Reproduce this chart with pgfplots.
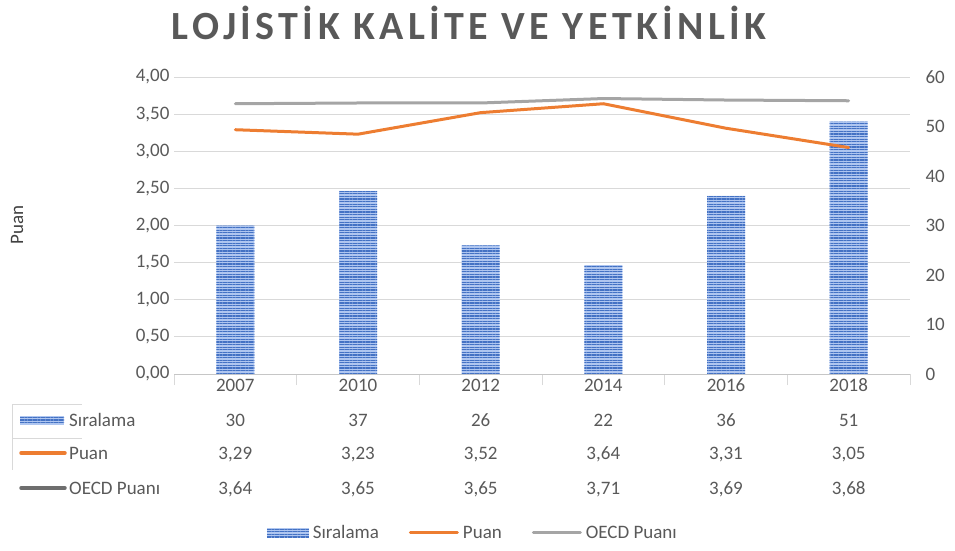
\documentclass[border=0pt]{standalone}
\usepackage{fontspec}
\setmainfont{Carlito}
\newfontfamily\titlefont[LetterSpace=11]{Carlito}
\usepackage{pgfplots}
\usepackage{pgfplotstable}
\pgfplotsset{compat=1.18}
\usetikzlibrary{patterns.meta}
\definecolor{barblue}{RGB}{68,114,196}
\definecolor{barlight}{RGB}{175,198,240}
\definecolor{puan}{RGB}{237,125,49}
\definecolor{oecd}{RGB}{165,165,165}
\definecolor{oecdkey}{RGB}{110,110,110}
\definecolor{txt}{RGB}{89,89,89}
\definecolor{gridc}{RGB}{217,217,217}

\pgfplotstableread{
x rank puan oecd
0 30 3.29 3.64
1 37 3.23 3.65
2 26 3.52 3.65
3 22 3.64 3.71
4 36 3.31 3.69
5 51 3.05 3.68
}\data

\newcommand\fs{\fontsize{19}{22}\selectfont}
\pgfplotsset{
  lineleg/.style={legend image code/.code={\draw[##1] (0pt,0pt) -- (47pt,0pt);}},
  barleg/.style={legend image code/.code={
    \fill[barlight, draw=none] (0pt,-4.5pt) rectangle (42pt,4.5pt);
    \path[draw=none, pattern={Lines[angle=0,distance=2.6pt,line width=1.3pt]}, pattern color=barblue] (0pt,-4.5pt) rectangle (42pt,4.5pt);}}
}

\begin{document}
\begin{tikzpicture}[x=1pt,y=1pt]
\path[use as bounding box] (0,0) rectangle (955,550);
\pgfplotsset{base/.style={at={(174pt,176pt)}, anchor=south west, scale only axis,
  width=736pt, height=297pt, xmin=-0.5, xmax=5.5,
  /pgf/number format/assume math mode=true,
  tick label style={font=\fs, text=txt}}}

% grid and left axis
\begin{axis}[base, ymin=0, ymax=4, ytick={0,0.5,...,4},
  ymajorgrids, grid style={gridc, line width=0.8pt},
  axis x line*=bottom, axis y line*=left,
  y axis line style={draw=none}, x axis line style={draw=gray!45, line width=0.8pt, -},
  major y tick style={draw=none},
  xtick={-0.5,0.5,...,5.5}, xticklabels={},
  xtick align=outside,
  major x tick style={draw=gridc, line width=0.8pt}, major tick length=11pt,
  yticklabel style={xshift=-1pt, /pgf/number format/.cd, use comma, fixed, fixed zerofill, precision=2}]
\end{axis}

% bars on right axis
\begin{axis}[base, ymin=0, ymax=60, ytick={0,10,...,60},
  axis y line*=right, axis x line=none,
  y axis line style={draw=none}, major y tick style={draw=none},
  yticklabel style={xshift=12pt}]
\addplot[ybar, bar width=38pt, draw=none, fill=barlight,
  postaction={pattern={Lines[angle=0,distance=2.6pt,line width=1.3pt]}, pattern color=barblue}]
  table[x=x,y=rank]{\data};
\end{axis}

% lines on left axis
\begin{axis}[base, ymin=0, ymax=4, hide axis,
  legend style={at={(0.406,-0.535)}, anchor=center, draw=none, fill=none,
    legend columns=3, font=\fs, text=txt,
    /tikz/every even column/.append style={column sep=28pt},
    /tikz/every odd column/.append style={column sep=2pt}}]
\addlegendimage{barleg}
\addlegendentry{Sıralama}
\addplot[puan, line width=3pt, line join=round, line cap=round, lineleg] table[x=x,y=puan]{\data};
\addlegendentry{Puan}
\addplot[oecd, line width=3pt, line join=round, line cap=round, lineleg] table[x=x,y=oecd]{\data};
\addlegendentry{OECD Puanı}
\end{axis}

% title
\node[text=txt] at (469,527) {\titlefont\bfseries\fontsize{40}{44}\selectfont LOJİSTİK KALİTE VE YETKİNLİK};
% y label
\node[rotate=90, text={rgb,255:red,64;green,64;blue,64}, font=\fs] at (17,325) {Puan};

% data table frame and keys
\draw[gridc, line width=0.8pt] (12,146) -- (82,146);
\draw[gridc, line width=0.8pt] (12,112) -- (82,112);
\draw[gridc, line width=0.8pt] (12,146) -- (12,80);
\fill[barlight] (20,125.5) rectangle (64,134.5);
\path[pattern={Lines[angle=0,distance=2.6pt,line width=1.3pt]}, pattern color=barblue] (20,125.5) rectangle (64,134.5);
\draw[puan, line width=3.5pt, line cap=round] (21,97) -- (65,97);
\draw[oecdkey, line width=3.5pt, line cap=round] (21,62) -- (65,62);
\begin{scope}[every node/.style={font=\fs, text=txt, anchor=base, inner sep=0pt}]
\node[anchor=base west] at (69,123.7) {Sıralama};
\node[anchor=base west] at (69,90.7) {Puan};
\node[anchor=base west] at (69,55.7) {OECD Puanı};
\foreach \xx/\yr/\ra/\pu/\oe in {235.3/2007/30/{3,29}/{3,64}, 358/2010/37/{3,23}/{3,65}, 480.7/2012/26/{3,52}/{3,65}, 603.3/2014/22/{3,64}/{3,71}, 726/2016/36/{3,31}/{3,69}, 848.7/2018/51/{3,05}/{3,68}}{
  \node at (\xx,158.7) {\yr};
  \node at (\xx,123.7) {\ra};
  \node at (\xx,90.7) {\pu};
  \node at (\xx,55.7) {\oe};
}
\end{scope}
\end{tikzpicture}
\end{document}
